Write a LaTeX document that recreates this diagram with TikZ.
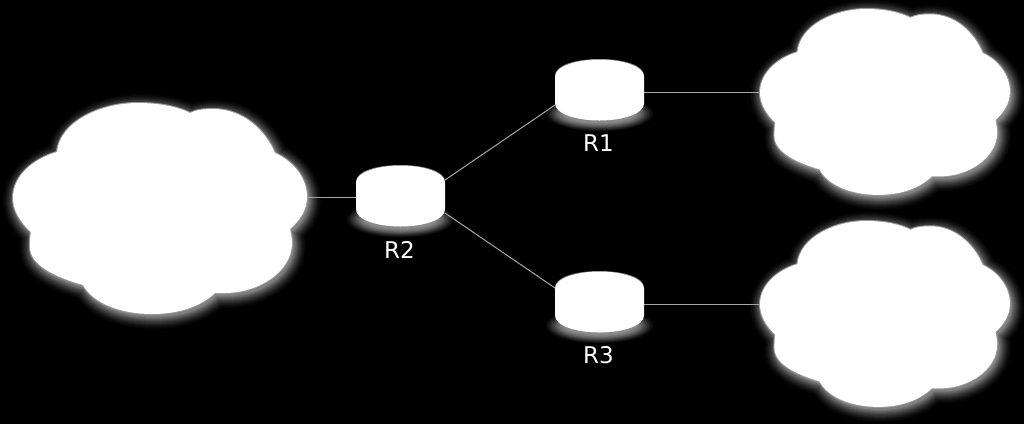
\documentclass[tikz,border=0pt]{standalone}
\usepackage{fontspec}
\setmainfont{DejaVu Sans}
\usetikzlibrary{calc}
\newcommand\cloudpath{(57,152) .. controls (60,122) and (100,103) .. (138,103) .. controls (160,103) and (178,107) .. (190,113)
 .. controls (196,110) and (204,109) .. (213,109) .. controls (243,109) and (265,130) .. (275,153)
 .. controls (293,161) and (307,178) .. (307,197) .. controls (307,210) and (300,220) .. (290,229)
 .. controls (291,234) and (292,238) .. (292,243) .. controls (292,272) and (258,293) .. (225,293) .. controls (221,293) and (218,293) .. (215,293)
 .. controls (200,307) and (178,314) .. (152,314) .. controls (120,314) and (93,303) .. (83,285)
 .. controls (55,277) and (30,265) .. (30,247) .. controls (30,242) and (30,237) .. (31,232)
 .. controls (20,222) and (13,210) .. (13,198) .. controls (13,176) and (33,159) .. (57,152) -- cycle}
\newcommand\drawcloud{%
 \foreach \w/\g in {24/2,22/4,20/6,18/9,16/12,14/16,12/20,10/24,8/29,6/34,4/39,2/44}{
  \draw[draw=white!\g!black,line width=\w pt,line join=round,xshift=2pt,yshift=-3pt] \cloudpath;}
 \fill[white!50!black,xshift=2pt,yshift=-3pt] \cloudpath;
 \draw[white!60!black,line width=2pt,line join=round] \cloudpath;
 \fill[white] \cloudpath;}
\newcommand\routershape{%
 \foreach \rx/\ry/\g in {54/18/3,52.5/17.3/7,51/16.6/11,49.5/15.9/16,48/15.2/21,46.5/14.5/26,45/13.8/31,43.5/13.1/36,42/12.4/41,40/11.5/46,38/10.5/50,36/9.5/54}{
  \fill[white!\g!black] (0,24) ellipse [x radius=\rx, y radius=\ry];}
 \draw[white!45!black,line width=1pt] (-44,-14) .. controls (-44,-24) and (-24,-30) .. (0,-30) .. controls (24,-30) and (44,-24) .. (44,-14);
 \fill[white] (-44.5,-13) .. controls (-44.5,-23) and (-24,-30) .. (0,-30) .. controls (24,-30) and (44.5,-23) .. (44.5,-13)
   -- (44.5,14) .. controls (44.5,24) and (24,31) .. (0,31) .. controls (-24,31) and (-44.5,24) .. (-44.5,14) -- cycle;}
\tikzset{
 anchorbox/.style={inner sep=0pt,outer sep=0pt,minimum height=61pt},
 routerbox/.style={anchorbox,minimum width=89pt},
 rlabel/.style={text=white,font=\fontsize{23}{23}\selectfont,inner sep=0pt},
 wire/.style={draw=white!65!black,line width=1pt}
}
\begin{document}
\begin{tikzpicture}[x=1pt,y=-1pt]
\useasboundingbox (0,0) rectangle (1024,424);
\fill[black] (0,0) rectangle (1024,424);
% clouds
\begin{scope}\drawcloud\end{scope}
\begin{scope}[shift={(760-13*0.85,9-103*0.881)},x=0.85pt,y=-0.881pt]\drawcloud\end{scope}
\begin{scope}[shift={(760-13*0.85,221-103*0.881)},x=0.85pt,y=-0.881pt]\drawcloud\end{scope}
% routers
\begin{scope}[shift={(400.5,195.5)}]\routershape\end{scope}
\begin{scope}[shift={(599.5,89.5)}]\routershape\end{scope}
\begin{scope}[shift={(599.5,301.5)}]\routershape\end{scope}
% named nodes
\node[anchorbox,minimum width=294pt] (CL) at (160,197) {};
\node[anchorbox,minimum width=250pt] (CA) at (885,92) {};
\node[anchorbox,minimum width=250pt] (CB) at (885,304) {};
\node[routerbox] (R2) at (400.5,195.5) {};
\node[routerbox] (R1) at (599.5,89.5) {};
\node[routerbox] (R3) at (599.5,301.5) {};
\node[rlabel] (L2) at (399.5,250) {R2};
\node[rlabel] (L1) at (598.5,143) {R1};
\node[rlabel] (L3) at (598.5,355) {R3};
% connectors
\draw[wire] (CL.east) -- (CL.east -| R2.west);
\draw[wire] ($(R2.east)+(0,-15.5)$) -- ($(R1.west)+(0,15.5)$);
\draw[wire] ($(R2.east)+(0,17.5)$) -- ($(R3.west)+(0,-13.5)$);
\draw[wire] (R1.east |- CA.west) -- (CA.west);
\draw[wire] (R3.east |- CB.west) -- (CB.west);
\end{tikzpicture}
\end{document}
